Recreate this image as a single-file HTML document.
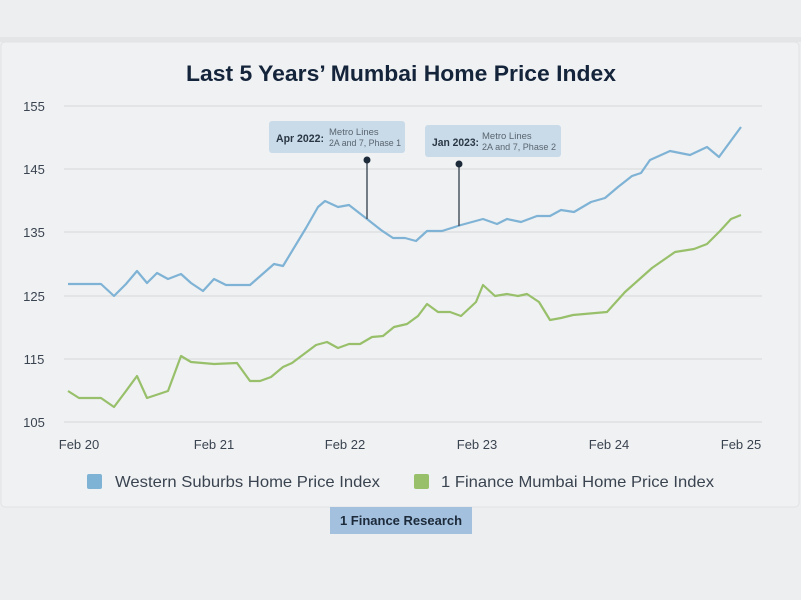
<!DOCTYPE html>
<html><head><meta charset="utf-8"><style>
html,body{margin:0;padding:0;width:801px;height:600px;background:#eceef0;overflow:hidden;font-family:"Liberation Sans",sans-serif}
</style></head><body>
<svg width="801" height="600" viewBox="0 0 801 600" xmlns="http://www.w3.org/2000/svg" font-family="Liberation Sans, sans-serif">
<rect x="0" y="0" width="801" height="600" fill="#eceef0"/>
<rect x="0" y="37" width="801" height="5" fill="#e3e5e7"/>
<rect x="1" y="42" width="798" height="465" rx="4" fill="#f0f1f3" stroke="#e0e2e4"/>
<text x="401" y="81" text-anchor="middle" font-size="22" font-weight="bold" fill="#14243a" textLength="430" lengthAdjust="spacingAndGlyphs">Last 5 Years’ Mumbai Home Price Index</text>
<g stroke="#d6d8da" stroke-width="1">
<line x1="64" y1="106" x2="762" y2="106"/><line x1="64" y1="169" x2="762" y2="169"/><line x1="64" y1="232" x2="762" y2="232"/><line x1="64" y1="296" x2="762" y2="296"/><line x1="64" y1="359" x2="762" y2="359"/><line x1="64" y1="422" x2="762" y2="422"/>
</g>
<g font-size="13" fill="#3a4450" text-anchor="middle">
<text x="34" y="111">155</text><text x="34" y="174">145</text><text x="34" y="237">135</text><text x="34" y="301">125</text><text x="34" y="364">115</text><text x="34" y="427">105</text>
<text x="79" y="449">Feb 20</text><text x="214" y="449">Feb 21</text><text x="345" y="449">Feb 22</text><text x="477" y="449">Feb 23</text><text x="609" y="449">Feb 24</text><text x="741" y="449">Feb 25</text>
</g>
<polyline fill="none" stroke="#7fb3d5" stroke-width="2.2" stroke-linejoin="round" points="68,284 101,284 114,296 126,284 137,271 147,283 157,273 168,279 181,274 191,283 203,291 214,279 226,285 250,285 274,264 283,266 306,228 318,207 325,201 338,207 349,205 367,219 381,230 393,238 405,238 416,241 427,231 442,231 461,225 483,219 497,224 507,219 521,222 537,216 550,216 561,210 574,212 591,202 605,198 618,187 632,176 641,173 650,160 670,151 690,155 707,147 719,157 741,127"/>
<polyline fill="none" stroke="#98c06a" stroke-width="2.2" stroke-linejoin="round" points="68,391 79,398 101,398 114,407 126,391 137,376 147,398 168,391 181,356 191,362 214,364 237,363 250,381 260,381 271,377 283,367 292,363 316,345 327,342 338,348 349,344 360,344 372,337 383,336 394,327 407,324 418,316 427,304 438,312 450,312 461,316 476,302 483,285 495,296 507,294 518,296 527,294 539,302 550,320 561,318 573,315 607,312 625,292 652,268 675,252 694,249 707,244 720,231 731,219 741,215"/>
<g stroke="#4a5560" stroke-width="1.5"><line x1="367" y1="160" x2="367" y2="219"/><line x1="459" y1="164" x2="459" y2="226"/></g>
<circle cx="367" cy="160" r="3.5" fill="#1c2a3a"/><circle cx="459" cy="164" r="3.5" fill="#1c2a3a"/>
<rect x="269" y="121" width="136" height="32" rx="3" fill="#c9dbe8"/>
<text x="276" y="142" font-size="11" font-weight="bold" fill="#2a3644" textLength="48" lengthAdjust="spacingAndGlyphs">Apr 2022:</text>
<text x="329" y="135" font-size="9.5" fill="#5a6570">Metro Lines</text><text x="329" y="146" font-size="9.5" fill="#5a6570" textLength="72" lengthAdjust="spacingAndGlyphs">2A and 7, Phase 1</text>
<rect x="425" y="125" width="136" height="32" rx="3" fill="#c9dbe8"/>
<text x="432" y="146" font-size="11" font-weight="bold" fill="#2a3644" textLength="47" lengthAdjust="spacingAndGlyphs">Jan 2023:</text>
<text x="482" y="139" font-size="9.5" fill="#5a6570">Metro Lines</text><text x="482" y="150" font-size="9.5" fill="#5a6570" textLength="74" lengthAdjust="spacingAndGlyphs">2A and 7, Phase 2</text>
<rect x="87" y="474" width="15" height="15" rx="2" fill="#7fb3d5"/>
<text x="115" y="487" font-size="16" fill="#3a4450" textLength="265" lengthAdjust="spacingAndGlyphs">Western Suburbs Home Price Index</text>
<rect x="414" y="474" width="15" height="15" rx="2" fill="#98c06a"/>
<text x="441" y="487" font-size="16" fill="#3a4450" textLength="273" lengthAdjust="spacingAndGlyphs">1 Finance Mumbai Home Price Index</text>
<rect x="330" y="507" width="142" height="27" fill="#a3c0de"/>
<text x="401" y="525" text-anchor="middle" font-size="13" font-weight="bold" fill="#1c2a3a">1 Finance Research</text>
</svg>
</body></html>
